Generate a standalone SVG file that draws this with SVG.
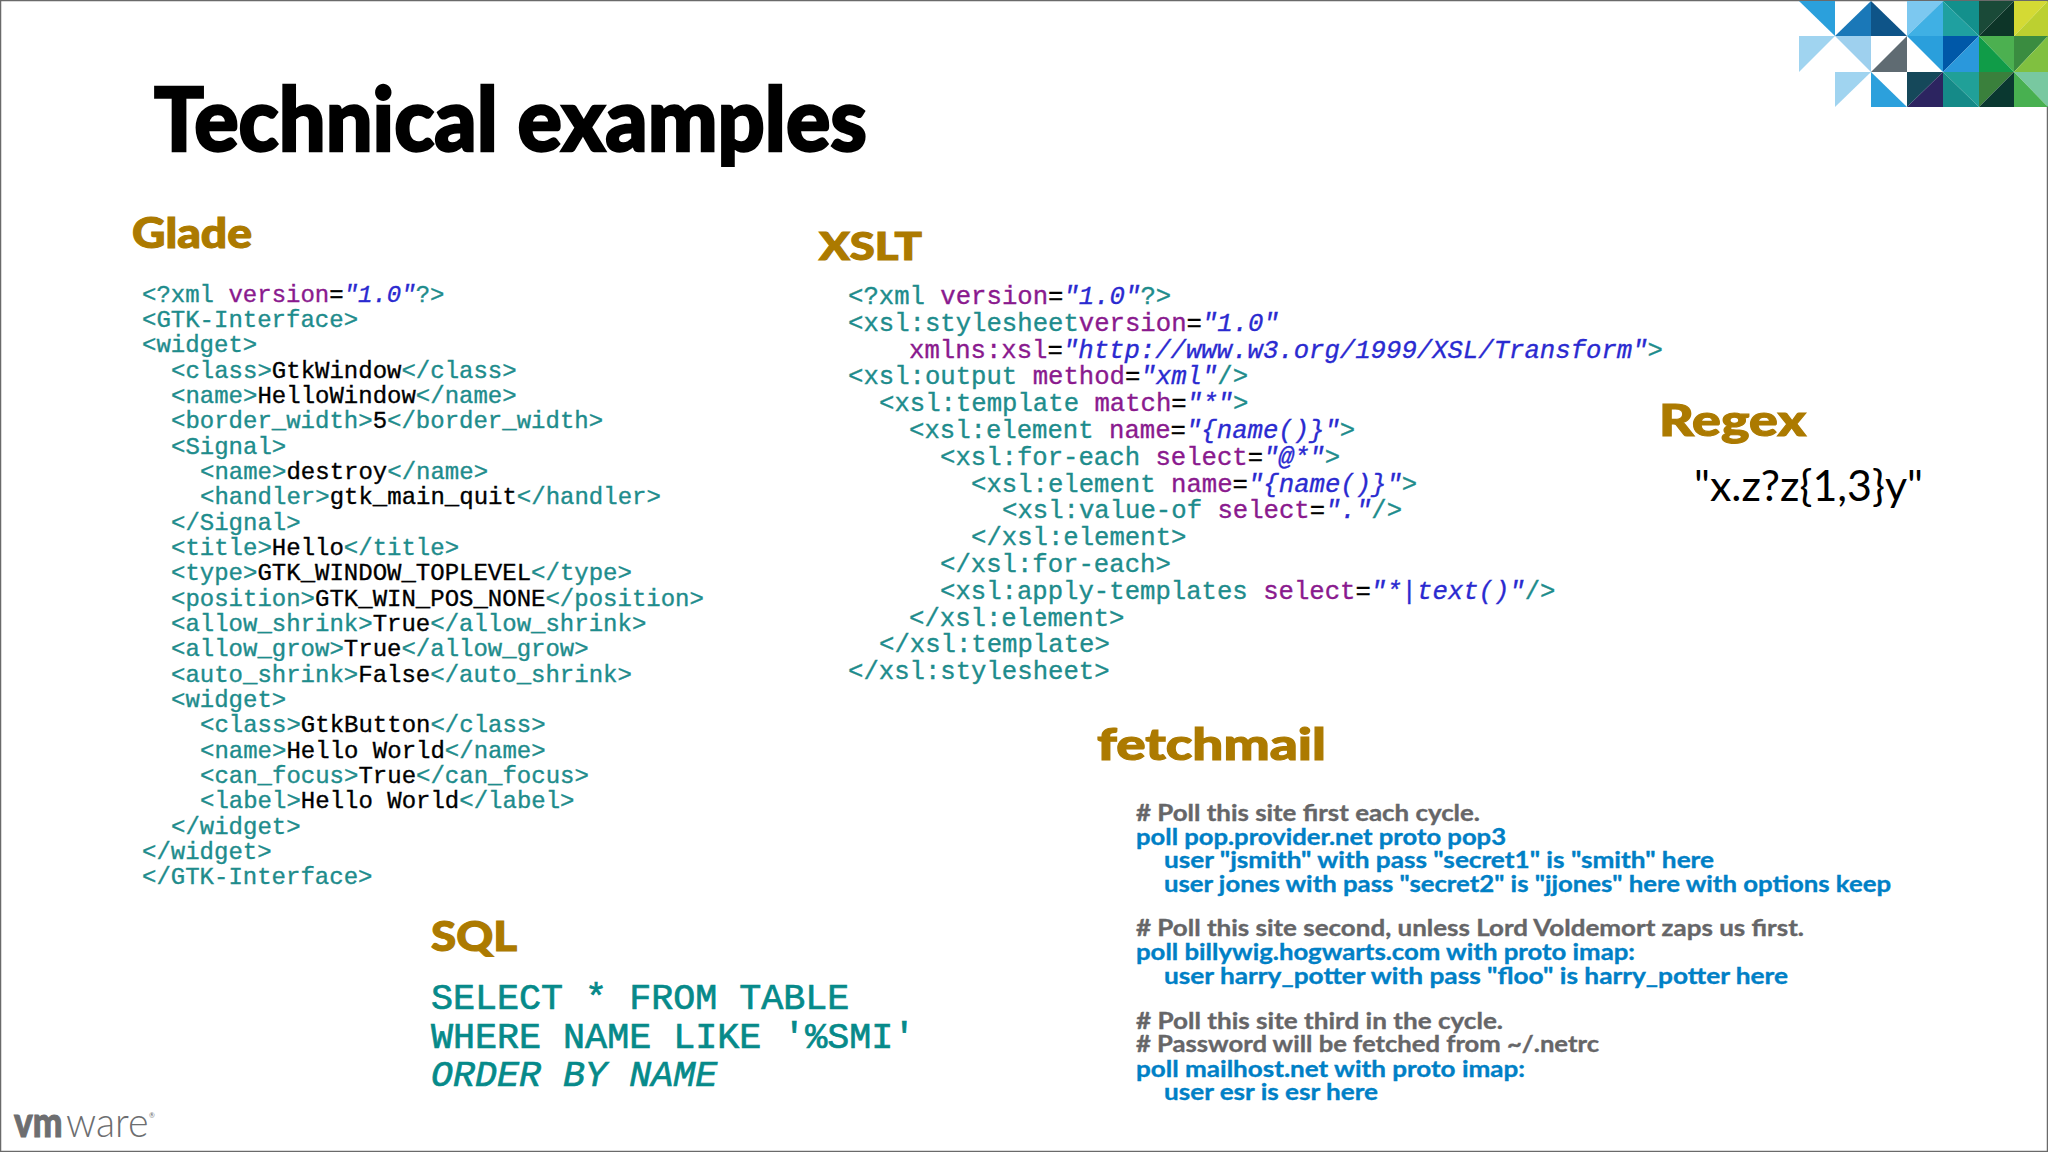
<svg xmlns="http://www.w3.org/2000/svg" width="2048" height="1152" viewBox="0 0 2048 1152">
<style>
.title{font-family:"Lato","Liberation Sans",sans-serif;font-weight:900;font-size:88px;fill:#000;stroke:#000;stroke-width:2.4px}
.h{font-family:"Lato","Liberation Sans",sans-serif;font-weight:900;font-size:44px;fill:#ac7a00;stroke:#ac7a00;stroke-width:1.1px}
.c{font-family:"Liberation Mono",monospace;fill:#1e8c8c;stroke:#1e8c8c;stroke-width:.35px;font-size:24px}
.x{font-size:25.65px}
.s{font-size:36.7px;fill:#068a8a;stroke:#068a8a;stroke-width:.7px}
.v{fill:#000;stroke:#000}
.a{fill:#8a1a8e;stroke:#8a1a8e}
.e{fill:#000;stroke:#000}
.q{fill:#2a2ad0;stroke:#2a2ad0;font-style:italic}
.f{font-family:"Lato","Liberation Sans",sans-serif;font-weight:700;font-size:22.5px;stroke-width:.35px}
.g{fill:#666668;stroke:#666668}
.b{fill:#0080c6;stroke:#0080c6}
.w{font-family:"Lato","Liberation Sans",sans-serif;font-size:42px;fill:#6d6e70}
</style>
<rect x="0.5" y="0.5" width="2047" height="1151" fill="#fff" stroke="#6a6a6a" stroke-width="1.5"/>
<g id="mosaic">
<polygon points="1799,1 1835,1 1835,36" fill="#2ba0dc"/>
<polygon points="1835,36 1871,1 1871,36" fill="#1a78b8"/>
<polygon points="1871,1 1871,36 1907,36" fill="#0e5488"/>
<polygon points="1907,1 1943,1 1907,36" fill="#7cc8f0"/>
<polygon points="1943,1 1943,36 1907,36" fill="#3fb0e4"/>
<polygon points="1943,1 1979,1 1979,36" fill="#13908c"/>
<polygon points="1943,1 1943,36 1979,36" fill="#1fa0a0"/>
<polygon points="1979,1 2014,1 1979,36" fill="#1a4a38"/>
<polygon points="2014,1 2014,36 1979,36" fill="#0d3528"/>
<polygon points="2014,1 2048,1 2014,36" fill="#d4da34"/>
<polygon points="2048,1 2048,36 2014,36" fill="#bcd030"/>
<polygon points="1799,36 1835,36 1799,72" fill="#a0d4f0"/>
<polygon points="1835,36 1871,36 1871,72" fill="#9ed0ee"/>
<polygon points="1871,72 1907,36 1907,72" fill="#5f6b72"/>
<polygon points="1907,36 1943,36 1943,72" fill="#2a9fdc"/>
<polygon points="1943,36 1979,36 1943,72" fill="#0058a8"/>
<polygon points="1979,36 1979,72 1943,72" fill="#2a98dc"/>
<polygon points="1979,36 2014,36 2014,72" fill="#4cb050"/>
<polygon points="1979,36 1979,72 2014,72" fill="#109c48"/>
<polygon points="2014,36 2048,36 2014,72" fill="#3a8c40"/>
<polygon points="2048,36 2048,72 2014,72" fill="#80c040"/>
<polygon points="1835,72 1871,72 1835,107" fill="#a0d4f0"/>
<polygon points="1871,72 1871,107 1907,107" fill="#2ca0dc"/>
<polygon points="1907,72 1943,72 1907,107" fill="#15485a"/>
<polygon points="1943,72 1943,107 1907,107" fill="#2c2460"/>
<polygon points="1943,72 1979,72 1979,107" fill="#20a098"/>
<polygon points="1943,72 1943,107 1979,107" fill="#158a88"/>
<polygon points="1979,72 2014,72 1979,107" fill="#3a803c"/>
<polygon points="2014,72 2014,107 1979,107" fill="#0a3830"/>
<polygon points="2014,72 2048,72 2048,107" fill="#78c8a0"/>
<polygon points="2014,72 2014,107 2048,107" fill="#48b050"/>
</g>
<text id="title" class="title" x="154" y="151" textLength="713" lengthAdjust="spacingAndGlyphs">Technical examples</text>
<g id="glade">
<text class="h" x="132" y="248" style="font-size:42px" textLength="120" lengthAdjust="spacingAndGlyphs">Glade</text>
<g transform="translate(0 2.5)">
<text class="c" x="142" y="299">&lt;?xml <tspan class="a">version</tspan><tspan class="e">=</tspan><tspan class="q">"1.0"</tspan>?&gt;</text>
<text class="c" x="142" y="324.3">&lt;GTK-Interface&gt;</text>
<text class="c" x="142" y="349.7">&lt;widget&gt;</text>
<text class="c" x="171" y="375">&lt;class&gt;<tspan class="v">GtkWindow</tspan>&lt;/class&gt;</text>
<text class="c" x="171" y="400.3">&lt;name&gt;<tspan class="v">HelloWindow</tspan>&lt;/name&gt;</text>
<text class="c" x="171" y="425.7">&lt;border_width&gt;<tspan class="v">5</tspan>&lt;/border_width&gt;</text>
<text class="c" x="171" y="451">&lt;Signal&gt;</text>
<text class="c" x="200" y="476.3">&lt;name&gt;<tspan class="v">destroy</tspan>&lt;/name&gt;</text>
<text class="c" x="200" y="501.7">&lt;handler&gt;<tspan class="v">gtk_main_quit</tspan>&lt;/handler&gt;</text>
<text class="c" x="171" y="527">&lt;/Signal&gt;</text>
<text class="c" x="171" y="552.3">&lt;title&gt;<tspan class="v">Hello</tspan>&lt;/title&gt;</text>
<text class="c" x="171" y="577.7">&lt;type&gt;<tspan class="v">GTK_WINDOW_TOPLEVEL</tspan>&lt;/type&gt;</text>
<text class="c" x="171" y="603">&lt;position&gt;<tspan class="v">GTK_WIN_POS_NONE</tspan>&lt;/position&gt;</text>
<text class="c" x="171" y="628.3">&lt;allow_shrink&gt;<tspan class="v">True</tspan>&lt;/allow_shrink&gt;</text>
<text class="c" x="171" y="653.7">&lt;allow_grow&gt;<tspan class="v">True</tspan>&lt;/allow_grow&gt;</text>
<text class="c" x="171" y="679">&lt;auto_shrink&gt;<tspan class="v">False</tspan>&lt;/auto_shrink&gt;</text>
<text class="c" x="171" y="704.3">&lt;widget&gt;</text>
<text class="c" x="200" y="729.7">&lt;class&gt;<tspan class="v">GtkButton</tspan>&lt;/class&gt;</text>
<text class="c" x="200" y="755">&lt;name&gt;<tspan class="v">Hello World</tspan>&lt;/name&gt;</text>
<text class="c" x="200" y="780.3">&lt;can_focus&gt;<tspan class="v">True</tspan>&lt;/can_focus&gt;</text>
<text class="c" x="200" y="805.7">&lt;label&gt;<tspan class="v">Hello World</tspan>&lt;/label&gt;</text>
<text class="c" x="171" y="831">&lt;/widget&gt;</text>
<text class="c" x="142" y="856.3">&lt;/widget&gt;</text>
<text class="c" x="142" y="881.7">&lt;/GTK-Interface&gt;</text>
</g>
</g>
<g id="xslt">
<text class="h" x="819" y="260" style="font-size:38px" textLength="103" lengthAdjust="spacingAndGlyphs">XSLT</text>
<g transform="translate(0 1.5)">
<text class="c x" x="848" y="302">&lt;?xml <tspan class="a">version</tspan><tspan class="e">=</tspan><tspan class="q">"1.0"</tspan>?&gt;</text>
<text class="c x" x="848" y="329">&lt;xsl:stylesheet<tspan class="a">version</tspan><tspan class="e">=</tspan><tspan class="q">"1.0"</tspan></text>
<text class="c x" x="909" y="356"><tspan class="a">xmlns:xsl</tspan><tspan class="e">=</tspan><tspan class="q">"http://www.w3.org/1999/XSL/Transform"</tspan>&gt;</text>
<text class="c x" x="848" y="382.5">&lt;xsl:output <tspan class="a">method</tspan><tspan class="e">=</tspan><tspan class="q">"xml"</tspan>/&gt;</text>
<text class="c x" x="879" y="409.5">&lt;xsl:template <tspan class="a">match</tspan><tspan class="e">=</tspan><tspan class="q">"*"</tspan>&gt;</text>
<text class="c x" x="909" y="436.5">&lt;xsl:element <tspan class="a">name</tspan><tspan class="e">=</tspan><tspan class="q">"{name()}"</tspan>&gt;</text>
<text class="c x" x="940" y="463.5">&lt;xsl:for-each <tspan class="a">select</tspan><tspan class="e">=</tspan><tspan class="q">"@*"</tspan>&gt;</text>
<text class="c x" x="971" y="490">&lt;xsl:element <tspan class="a">name</tspan><tspan class="e">=</tspan><tspan class="q">"{name()}"</tspan>&gt;</text>
<text class="c x" x="1002" y="516.5">&lt;xsl:value-of <tspan class="a">select</tspan><tspan class="e">=</tspan><tspan class="q">"."</tspan>/&gt;</text>
<text class="c x" x="971" y="543.5">&lt;/xsl:element&gt;</text>
<text class="c x" x="940" y="570">&lt;/xsl:for-each&gt;</text>
<text class="c x" x="940" y="597">&lt;xsl:apply-templates <tspan class="a">select</tspan><tspan class="e">=</tspan><tspan class="q">"*|text()"</tspan>/&gt;</text>
<text class="c x" x="909" y="624">&lt;/xsl:element&gt;</text>
<text class="c x" x="879" y="650.5">&lt;/xsl:template&gt;</text>
<text class="c x" x="848" y="677.5">&lt;/xsl:stylesheet&gt;</text>
</g>
</g>
<g id="regex">
<text class="h" x="1659" y="436" textLength="147" lengthAdjust="spacingAndGlyphs">Regex</text>
<text x="1694" y="501" font-family="Lato, 'Liberation Sans', sans-serif" font-size="42" fill="#000" textLength="229" lengthAdjust="spacingAndGlyphs">"x.z?z{1,3}y"</text>
</g>
<g id="fetchmail">
<text class="h" x="1097" y="760" textLength="229" lengthAdjust="spacingAndGlyphs">fetchmail</text>
<g transform="translate(0 1.5)">
<text class="f g" x="1136" y="819" textLength="344" lengthAdjust="spacingAndGlyphs"># Poll this site first each cycle.</text>
<text class="f b" x="1136" y="843" textLength="370" lengthAdjust="spacingAndGlyphs">poll pop.provider.net proto pop3</text>
<text class="f b" x="1164" y="866" textLength="550" lengthAdjust="spacingAndGlyphs">user "jsmith" with pass "secret1" is "smith" here</text>
<text class="f b" x="1164" y="890" textLength="727" lengthAdjust="spacingAndGlyphs">user jones with pass "secret2" is "jjones" here with options keep</text>
<text class="f g" x="1136" y="934" textLength="668" lengthAdjust="spacingAndGlyphs"># Poll this site second, unless Lord Voldemort zaps us first.</text>
<text class="f b" x="1136" y="958" textLength="499" lengthAdjust="spacingAndGlyphs">poll billywig.hogwarts.com with proto imap:</text>
<text class="f b" x="1164" y="982" textLength="624" lengthAdjust="spacingAndGlyphs">user harry_potter with pass "floo" is harry_potter here</text>
<text class="f g" x="1136" y="1027" textLength="367" lengthAdjust="spacingAndGlyphs"># Poll this site third in the cycle.</text>
<text class="f g" x="1136" y="1050" textLength="463" lengthAdjust="spacingAndGlyphs"># Password will be fetched from ~/.netrc</text>
<text class="f b" x="1136" y="1075" textLength="389" lengthAdjust="spacingAndGlyphs">poll mailhost.net with proto imap:</text>
<text class="f b" x="1164" y="1098" textLength="214" lengthAdjust="spacingAndGlyphs">user esr is esr here</text>
</g>
</g>
<g id="sql">
<text class="h" x="431" y="951" style="font-size:41px" textLength="86" lengthAdjust="spacingAndGlyphs">SQL</text>
<text class="c s" x="431" y="1009">SELECT * FROM TABLE</text>
<text class="c s" x="431" y="1048">WHERE NAME LIKE '%SMI'</text>
<text class="c s" x="431" y="1086" font-style="italic">ORDER BY NAME</text>
</g>
<g id="vmware">
<text class="w" transform="translate(14 1137) scale(.84 1)" font-weight="900" stroke="#6d6e70" stroke-width="1">vm</text>
<text class="w" transform="translate(66 1137) scale(.94 1)" font-weight="300">ware</text>
<text x="149" y="1118" font-family="Lato, sans-serif" font-size="7" fill="#6d6e70">®</text>
</g>
</svg>
